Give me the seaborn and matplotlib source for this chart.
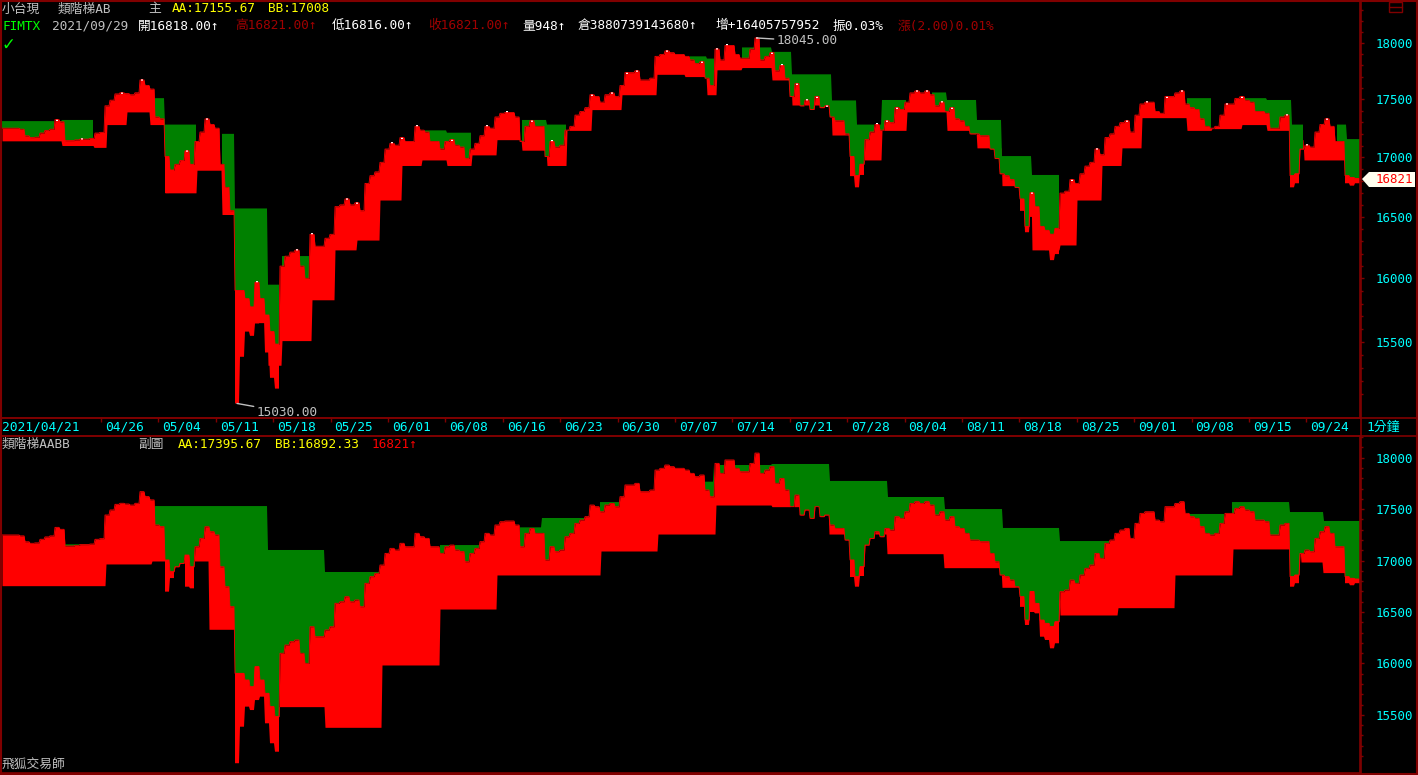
import numpy as np
import matplotlib
matplotlib.use('Agg')
import matplotlib.pyplot as plt
import seaborn as sns
from matplotlib.patches import Polygon, Rectangle
from matplotlib.lines import Line2D
from matplotlib.ticker import FixedLocator, NullFormatter, FuncFormatter

nan = np.nan

# FIMTX 1-min close, one sample every 5 screen columns (2021/04/21 - 2021/09/29)
price = [
    17249, 17249, 17249, 17249, 17240, 17183, 17168, 17172, 17207, 17230,
    17240, 17323, 17304, 17142, 17142, 17148, 17155, 17155, 17161, 17207,
    17213, 17443, 17492, 17547, 17557, 17550, 17540, 17557, 17670, 17622,
    17590, 17346, 17330, 17006, 16892, 16940, 16973, 17054, 16940, 17135,
    17216, 17329, 17281, 17249, 16940, 16746, 16552, 15904, 15904, 15839,
    15774, 15969, 15839, 15710, 15580, 15483, 16099, 16179, 16212, 16228,
    16099, 16001, 16357, 16260, 16260, 16325, 16357, 16585, 16600, 16649,
    16600, 16617, 16552,
    16779, 16844, 16876, 16957, 17070, 17119, 17103,
    17168, 17135, 17135, 17265, 17232, 17216, 17135, 17135, 17070, 17135,
    17151, 17103, 17087, 16989, 17070, 17119, 17184, 17265, 17249, 17346,
    17378, 17385, 17385, 17346, 17135, 17265, 17313, 17265, 17265, 17006,
    17135, 17087, 17103, 17232, 17265, 17362, 17394, 17427, 17540, 17524,
    17475, 17540, 17556, 17524, 17621, 17735, 17735, 17751, 17670, 17670,
    17686, 17880, 17897, 17929, 17913, 17897, 17897, 17880, 17848, 17816,
    17832, 17686,
    17621, 17945, 17848, 17978, 17978, 17897, 17864, 17864,
    17945, 18045, 17848, 17880, 17913, 17751, 17799, 17686, 17524, 17637,
    17443, 17492, 17411, 17524, 17427, 17443, 17346, 17313, 17313, 17200,
    17006, 16844, 16941, 17151, 17216, 17281, 17232, 17313, 17297, 17427,
    17411, 17475, 17556, 17573, 17556, 17573, 17540, 17443, 17475, 17394,
    17427, 17330, 17313, 17265, 17200, 17200, 17184, 17184, 17070, 16989,
    16860, 16844, 16811, 16746, 16649, 16422, 16700, 16584, 16422, 16390,
    16358, 16406,
    16698, 16714, 16811, 16779, 16860, 16925, 16957, 17070, 17022, 17168,
    17200, 17265, 17297, 17313, 17216, 17362, 17459, 17475, 17475, 17394,
    17378, 17524, 17524, 17556, 17573, 17459, 17427, 17411, 17330, 17265,
    17249, 17265, 17362, 17459, 17459, 17508, 17524, 17492, 17475, 17394,
    17394, 17378, 17249, 17249, 17346, 17362, 16844, 16860, 17070, 17103,
    17087, 17216, 17281, 17330, 17265, 17135, 17135, 16844, 16828, 16821,
]

# lows of the sharp dips (sample index, low)
dip_idx = [33, 34, 37, 38, 47, 48, 49, 50, 51, 52, 53, 54, 55, 170, 171, 172,
           204, 205, 206, 207, 208, 209, 210, 211, 258, 259, 269, 270, 271]
dip_low = [16698, 16830, 16746, 16730, 15030, 15385, 15580, 15547, 15644, 15677,
           15418, 15224, 15142, 16840, 16746, 16850, 16550, 16374, 16500, 16487,
           16260, 16228, 16147, 16196, 16746, 16780, 16780, 16760, 16780]

# sub chart staircase lines (start in samples, level); nan = line not shown
aa_start = [0, 20.8, 30, 53.2, 64.6, 75.6, 87.6, 96, 103.6, 108, 117, 119.6, 123.6,
            140.4, 142.4, 154, 165.6, 177.2, 188.6, 200.2, 211.6, 222.6, 237, 246,
            257.6, 264.4]
aa_level = [17158, nan, 17530, 17103, 16889, nan, 17151, nan, 17323, 17414,
            nan, 17569, nan, 17767, 17929, 17939, 17774, 17618, 17501, 17317,
            17190, nan, 17453, 17569, 17472, 17385]
bb_start = [0, 20.8, 30, 41.4, 55.4, 64.6, 76, 87.6, 99, 119.8, 131.2, 142.8, 154,
            165.4, 177, 188.4, 200, 211.6, 223.2, 234.6, 246.2, 259.8, 264.2]
bb_level = [16756, 16967, 16996, 16332, 15580, 15379, 15985, 16529, 16860, 17093,
            17258, 17540, 17524, 17258, 17067, 16931, 16740, 16471, 16542, 16860,
            17113, 16986, 16883]

# main chart staircase lines (shorter steps)
top_aa_start = [0, 12, 18.4, 29.6, 32.6, 39, 44, 46.6, 53.2, 56,
                62, 84, 89, 94, 104, 109, 113, 136.6, 141, 143,
                148, 154, 158, 166, 171, 176, 181, 186, 189, 195,
                200, 206, 211.6, 237, 242, 248, 253, 258, 260.4, 267, 269]
top_aa_level = [17310, 17320, nan, 17510, 17280, nan, 17200, 16570, 15950, 16180,
                nan, 17230, 17210, nan, 17320, 17280, nan, 17880, 17860, nan,
                17960, 17920, 17720, 17490, 17280, 17494, nan, 17560, 17494, 17320,
                17010, 16850, nan, 17510, nan, 17510, 17494, 17280, nan, 17280, 17155]
top_bb_start = [0, 12, 18.4, 21, 25, 29.6, 32.6, 39, 44, 46.6,
                53.2, 56, 62, 66.6, 71, 75.6, 80, 84, 89, 94,
                99, 104, 109, 113, 118, 124, 131, 136.6, 141, 143,
                148, 154, 158, 166, 171, 176, 181, 189, 195, 200,
                206, 211.6, 215, 220, 224, 228, 237, 242, 248, 253,
                258, 260.4, 269]
top_bb_level = [17140, 17100, 17084, 17280, 17390, 17280, 16700, 16890, 16520, 15650,
                15320, 15510, 15830, 16230, 16310, 16640, 16930, 16977, 16930, 17020,
                17150, 17060, 16930, 17230, 17410, 17540, 17720, 17700, 17540, 17760,
                17780, 17670, 17450, 17190, 16977, 17230, 17390, 17230, 17080, 16760,
                16230, 16270, 16640, 16930, 17080, 17340, 17230, 17245, 17280, 17230,
                17150, 16977, 17008]

date_labels = ['04/26', '05/04', '05/11', '05/18', '05/25', '06/01', '06/08', '06/16',
               '06/23', '06/30', '07/07', '07/14', '07/21', '07/28', '08/04', '08/11',
               '08/18', '08/25', '09/01', '09/08', '09/15', '09/24']
y_ticks = [15500, 16000, 16500, 17000, 17500, 18000]

sns.set_theme(style='dark', rc={'axes.facecolor': 'black', 'figure.facecolor': 'black'})
plt.rcParams['font.family'] = ['DejaVu Sans Mono', 'Noto Sans CJK TC']

W, H = 1418, 775
DARK = '#800000'
CYAN = '#00FFFF'
GRAY = '#C0C0C0'
RED = '#FF0000'
GREEN = '#008000'

fig = plt.figure(figsize=(W / 100, H / 100), dpi=100, facecolor='black')


def fx(x):
    return x / W


def fy(y):
    return 1 - y / H


ax1 = fig.add_axes([fx(1), fy(418), 1359 / W, 417 / H])
ax2 = fig.add_axes([fx(1), fy(773), 1359 / W, 337 / H])

p = np.asarray(price, dtype=float)
n = len(p)
xf = np.arange(0, n * 5) / 5.0
hold = np.minimum((xf + 0.5).astype(int), n - 1)
pf = p[hold]

dips = np.full(n, nan)
dips[dip_idx] = dip_low
df = dips[hold]


def steps(starts, levels):
    lv = np.asarray(levels, dtype=float)
    return lv[np.searchsorted(np.asarray(starts), xf, side='right') - 1]


def draw_panel(ax, aa_s, aa_l, bb_s, bb_l):
    aa = steps(aa_s, aa_l)
    bb = steps(bb_s, bb_l)
    ax.fill_between(xf, bb, pf, color=RED, lw=0)
    ax.fill_between(xf, pf, aa, where=pf < aa, color=GREEN, lw=0)
    ax.fill_between(xf, df, pf, color=RED, lw=0)
    sns.lineplot(x=xf, y=pf, ax=ax, color=RED, lw=0.6, estimator=None)


draw_panel(ax1, top_aa_start, top_aa_level, top_bb_start, top_bb_level)
draw_panel(ax2, aa_start, aa_level, bb_start, bb_level)

# white high ticks on the local tops of the main chart
i = np.arange(1, n - 1)
peaks = i[(p[i] > p[i - 1]) & (p[i] >= p[i + 1])]
sns.scatterplot(x=peaks, y=p[peaks], ax=ax1, color='white', marker='s', s=3,
                linewidth=0, legend=False)

fmt = FuncFormatter(lambda v, pos: f'{v:.0f}')
for ax in (ax1, ax2):
    ax.set_facecolor('black')
    ax.set_xlim(-0.2, 271.6)
    ax.grid(False)
    ax.set_xlabel('')
    ax.set_ylabel('')
    for s in ax.spines.values():
        s.set_color(DARK)
        s.set_linewidth(1.2)
    ax.yaxis.tick_right()
    ax.tick_params(axis='y', which='both', right=True, left=False, labelright=True,
                   labelleft=False, direction='out', color=DARK, labelcolor=CYAN,
                   labelsize=9, width=1)
    ax.tick_params(axis='y', which='major', length=3, pad=8)
    ax.tick_params(axis='y', which='minor', length=2)

ax1.set_yscale('log')
ax1.set_ylim(14921, 18382)
ax2.set_ylim(14935, 18211)
for ax in (ax1, ax2):
    ax.yaxis.set_major_locator(FixedLocator(y_ticks))
    ax.yaxis.set_minor_locator(FixedLocator([v for v in range(15000, 18400, 100) if v % 500]))
    ax.yaxis.set_major_formatter(fmt)
    ax.yaxis.set_minor_formatter(NullFormatter())

tick_pos = [19.8 + 11.48 * k for k in range(len(date_labels))]
ax1.set_xticks(tick_pos)
ax1.set_xticklabels([])
ax1.tick_params(axis='x', bottom=True, direction='out', length=3, color=DARK, width=1)
ax2.set_xticks([])

# price extremes
ax1.annotate('18045.00', xy=(151, 18045), xytext=(20, -3), textcoords='offset pixels',
             color=GRAY, fontsize=9.2, va='center', ha='left',
             arrowprops=dict(arrowstyle='-', color=GRAY, lw=1, shrinkA=0, shrinkB=0))
ax1.annotate('15030.00', xy=(47, 15030), xytext=(20, -9), textcoords='offset pixels',
             color=GRAY, fontsize=9.2, va='center', ha='left',
             arrowprops=dict(arrowstyle='-', color=GRAY, lw=1, shrinkA=0, shrinkB=0))

# frame lines
for (x0, y0, x1, y1) in [(0, 418, W, 418), (0, 436, W, 436), (1360.5, 0, 1360.5, H)]:
    fig.add_artist(Line2D([fx(x0), fx(x1)], [fy(y0), fy(y1)], color=DARK, lw=1.2))
fig.add_artist(Rectangle((fx(0.5), fy(774)), (W - 2) / W, 773 / H, fill=False,
                         edgecolor=DARK, lw=1.5, transform=fig.transFigure))
fig.add_artist(Rectangle((fx(1389), fy(12)), 13 / W, 10 / H, fill=False,
                         edgecolor=DARK, lw=1, transform=fig.transFigure))
fig.add_artist(Line2D([fx(1389), fx(1402)], [fy(7), fy(7)], color=DARK, lw=1))

# date strip
fig.text(fx(2), fy(427), '2021/04/21', color=CYAN, fontsize=9.3, va='center', ha='left')
for pos, lab in zip(tick_pos, date_labels):
    fig.text(fx(2 + 5 * pos + 4), fy(427), lab, color=CYAN, fontsize=9.3,
             va='center', ha='left')
fig.text(fx(1366), fy(427), '1分鐘', color=CYAN, fontsize=9.3, va='center', ha='left')

# last price tag
tag = [(1362, 179), (1369, 172), (1415, 172), (1415, 187), (1369, 187)]
fig.add_artist(Polygon([(fx(a), fy(b)) for a, b in tag], closed=True,
                       facecolor='#FFFFF0', edgecolor='none', transform=fig.transFigure))
fig.text(fx(1376), fy(179.5), '16821', color=RED, fontsize=9, va='center', ha='left')


def header(y, parts):
    for x, s, c in parts:
        fig.text(fx(x), fy(y), s, color=c, fontsize=9.2, va='center', ha='left')


header(9, [(2, '小台現', GRAY), (58, '類階梯AB', GRAY), (148, '主', GRAY),
           (172, 'AA:17155.67', '#FFFF00'), (268, 'BB:17008', '#FFFF00')])
header(26, [(3, 'FIMTX', '#00FF00'), (52, '2021/09/29', GRAY),
            (138, '開16818.00↑', '#FFFFFF'), (235, '高16821.00↑', '#A00000'),
            (332, '低16816.00↑', '#FFFFFF'), (428, '收16821.00↑', '#A00000'),
            (522, '量948↑', '#FFFFFF'), (578, '倉3880739143680↑', '#FFFFFF'),
            (715, '增+16405757952', '#FFFFFF'), (833, '振0.03%', '#FFFFFF'),
            (898, '漲(2.00)0.01%', '#A00000')])
fig.text(fx(2), fy(45), '✓', color='#00FF00', fontsize=12, va='center', ha='left',
         family='DejaVu Sans')
header(444, [(2, '類階梯AABB', GRAY), (138, '副圖', GRAY),
             (178, 'AA:17395.67', '#FFFF00'), (275, 'BB:16892.33', '#FFFF00'),
             (372, '16821↑', RED)])
header(765, [(2, '飛狐交易師', GRAY)])

fig.savefig('out.png', dpi=100, facecolor='black')
